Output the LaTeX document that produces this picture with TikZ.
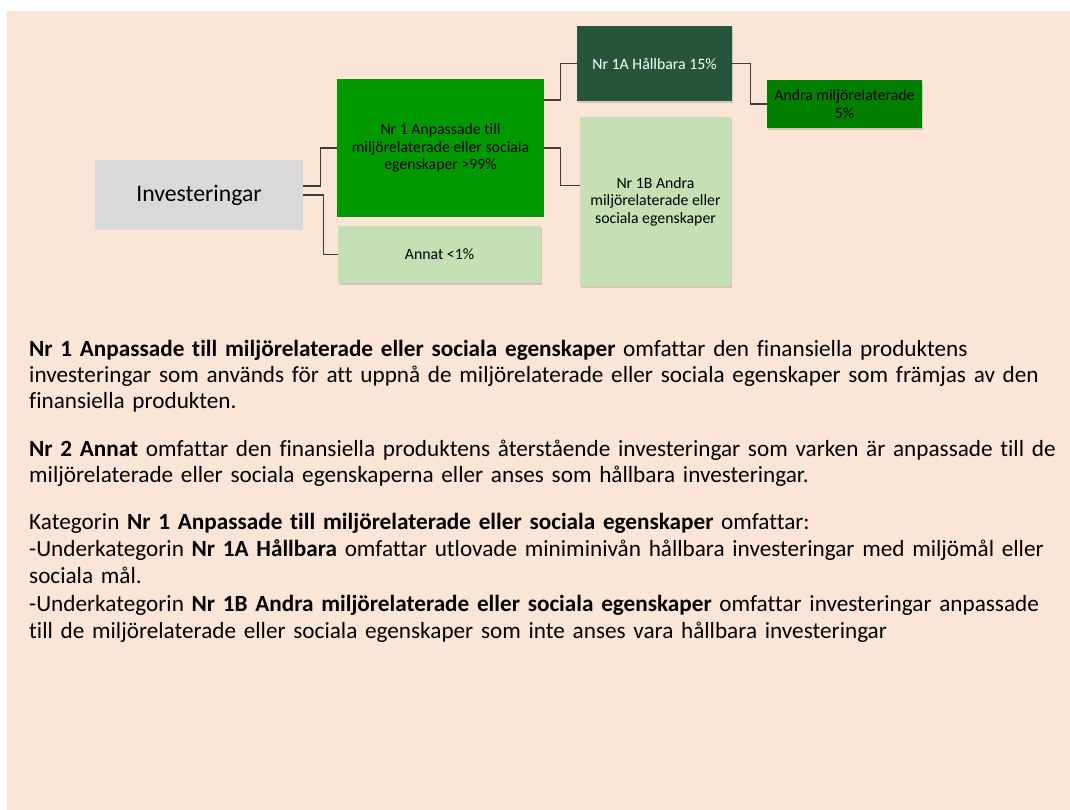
\documentclass[tikz,border=0pt]{standalone}
\usepackage{fontspec}
\setmainfont{Carlito}[Ligatures=CommonOff]
\usetikzlibrary{shadows}

\definecolor{peach}{HTML}{FBE5D6}
\definecolor{boxgray}{HTML}{D9D9D9}
\definecolor{nrgreen}{HTML}{009900}
\definecolor{darkgreen}{HTML}{26553B}
\definecolor{midgreen}{HTML}{007F00}
\definecolor{lightgreen}{HTML}{C5E0B4}
\definecolor{connline}{HTML}{3C3C3C}

\tikzset{
  box/.style 2 args={inner sep=0pt, minimum width=#1, minimum height=#2,
    align=center, font=\fontsize{15.8}{17.4}\selectfont},
  shadowed/.style={drop shadow={shadow xshift=1pt, shadow yshift=-2pt,
    opacity=0.14, fill=black}},
  conn/.style={draw=connline, line width=1.2pt},
  para/.style={anchor=base west, inner sep=0pt, text width=1040pt, align=left}
}

\begin{document}
\begin{tikzpicture}[x=1pt,y=1pt]
\useasboundingbox (0,0) rectangle (1070,-810);
\fill[peach] (7,-11) rectangle (1070,-810);

% diagram
\node[box={208pt}{70pt}, fill=boxgray, font=\fontsize{23.7}{28}\selectfont] (inv) at (199,-195) {Investeringar};
\node[box={207pt}{138pt}, fill=nrgreen] (nr1) at (440.5,-148) {Nr 1 Anpassade till\\miljörelaterade eller sociala\\egenskaper >99\%};
\node[box={203pt}{57pt}, fill=lightgreen, shadowed] (annat) at (439.5,-254.5) {Annat <1\%};
\node[box={155pt}{75pt}, fill=darkgreen, text=white, shadowed] (nr1a) at (654.5,-63.5) {Nr 1A Hållbara 15\%};
\node[box={151pt}{169pt}, fill=lightgreen, shadowed] (nr1b) at (655.5,-201.5) {Nr 1B Andra\\miljörelaterade eller\\sociala egenskaper};
\node[box={155pt}{48pt}, fill=midgreen, shadowed] (andra) at (844.5,-104) {Andra miljörelaterade\\5\%};

\draw[conn] ([yshift=9pt]inv.east) -- ++(17,0) |- (nr1.west);
\draw[conn] (inv.east) -- ++(20,0) |- (annat.west);
\draw[conn] ([yshift=48pt]nr1.east) -- ++(16,0) |- (nr1a.west);
\draw[conn] (nr1.east) -- ++(16,0) |- ([yshift=16pt]nr1b.west);
\draw[conn] (nr1a.east) -- ++(18,0) |- (andra.west);

% text below
\node[para, font=\fontsize{23.2}{26}\selectfont] (txtnr1) at (29,-356) {\textbf{Nr 1 Anpassade till miljörelaterade eller sociala egenskaper} omfattar den finansiella produktens\\investeringar som används för att uppnå de miljörelaterade eller sociala egenskaper som främjas av den\\finansiella produkten.};
\node[para, font=\fontsize{23.2}{26}\selectfont] (txtnr2) at (29,-456) {\textbf{Nr 2 Annat} omfattar den finansiella produktens återstående investeringar som varken är anpassade till de\\miljörelaterade eller sociala egenskaperna eller anses som hållbara investeringar.};
\node[para, font=\fontsize{23.2}{27.3}\selectfont] (txtkat) at (29,-529.3) {Kategorin \textbf{Nr 1 Anpassade till miljörelaterade eller sociala egenskaper} omfattar:\\-Underkategorin \textbf{Nr 1A Hållbara} omfattar utlovade miniminivån hållbara investeringar med miljömål eller\\sociala mål.\\-Underkategorin \textbf{Nr 1B Andra miljörelaterade eller sociala egenskaper} omfattar investeringar anpassade\\till de miljörelaterade eller sociala egenskaper som inte anses vara hållbara investeringar};
\end{tikzpicture}
\end{document}
